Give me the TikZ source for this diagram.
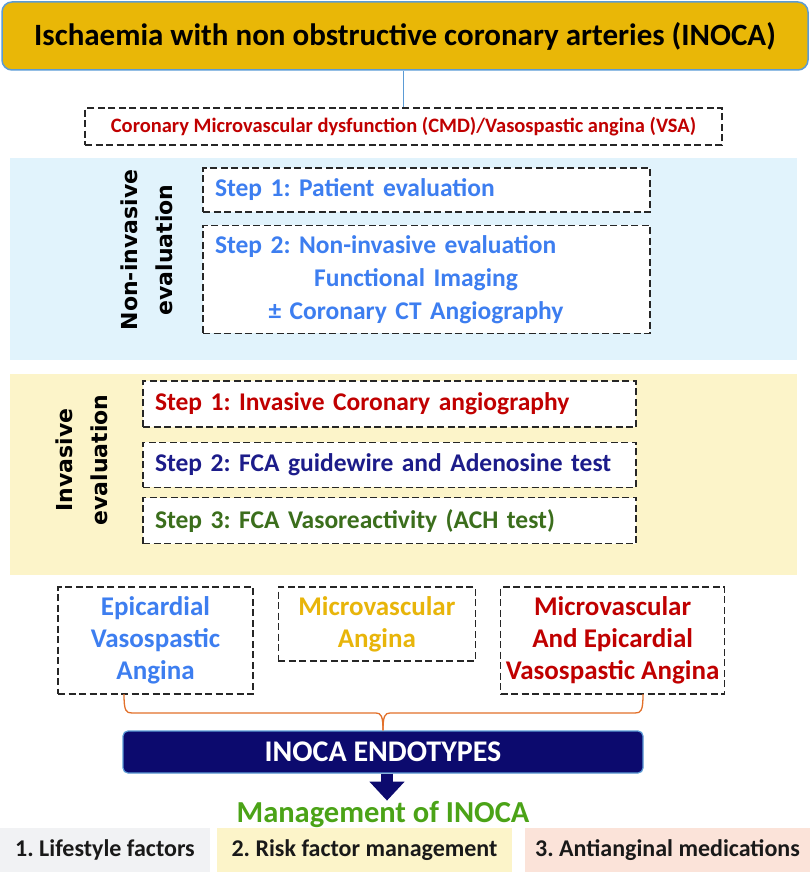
\documentclass[tikz,border=0pt]{standalone}
\usepackage{fontspec}
\setmainfont{Carlito}
\newfontfamily\sidefont{DejaVu Sans}
\usepackage{tikz}
\usetikzlibrary{positioning,arrows.meta}

\definecolor{goldfill}{HTML}{E9B707}
\definecolor{edgeblue}{HTML}{5B9BD5}
\definecolor{cmdred}{HTML}{C00000}
\definecolor{stepblue}{HTML}{3D7EF0}
\definecolor{stepnavy}{HTML}{1C1C8A}
\definecolor{stepgreen}{HTML}{3B6E1C}
\definecolor{mvyellow}{HTML}{E8B50A}
\definecolor{bandblue}{HTML}{E1F3FC}
\definecolor{bandyellow}{HTML}{FCF4C9}
\definecolor{endonavy}{HTML}{0C0A6E}
\definecolor{bracered}{HTML}{E2702A}
\definecolor{mgmtgreen}{HTML}{4BA317}
\definecolor{boxgray}{HTML}{F1F2F4}
\definecolor{boxpink}{HTML}{FBE3D9}
\definecolor{dashgray}{HTML}{262626}

\newcommand{\fsz}[2]{\fontsize{#1}{#2}\selectfont}

\begin{document}
\frenchspacing
\begin{tikzpicture}[x=1pt, y=-1pt, inner sep=0pt,
    titlebox/.style = {draw=edgeblue, line width=1.5pt, fill=goldfill, rounded corners=10pt, minimum width=806pt, minimum height=68pt, font=\fsz{31}{36}\bfseries},
    dashbox/.style = {draw=dashgray, dash pattern=on 7pt off 3.5pt, line width=1.3pt, fill=white},
    stepbox/.style = {dashbox, text width=#1, align=left, inner xsep=12pt, font=\fsz{25.5}{33}\bfseries},
    endobox/.style = {dashbox, align=center, font=\fsz{27}{32}\bfseries},
    sidelabel/.style = {rotate=90, align=center, font=\sidefont\fsz{22}{35}\bfseries},
    typebox/.style = {draw=edgeblue, line width=1.2pt, fill=endonavy, rounded corners=5pt, text=white, minimum width=520pt, minimum height=42pt, font=\fsz{30}{34}\bfseries},
    mgmtbox/.style = {minimum height=44pt, text=black!90, font=\fsz{24}{28}\bfseries}]
    \useasboundingbox (0,0) rectangle (810,872);
    % background bands
    \fill[bandblue] (10,158) rectangle (797,360);
    \fill[bandyellow] (10,374) rectangle (797,575);

    \node[titlebox] (title) at (405,36) {Ischaemia with non obstructive coronary arteries (INOCA)};
    \node[dashbox, minimum width=637pt, minimum height=37pt, text=cmdred, font=\fsz{20.5}{24}\bfseries] (cmd) at (403.5,126.5) {Coronary Microvascular dysfunction (CMD)/Vasospastic angina (VSA)};
    \draw[edgeblue, line width=1.2pt] (cmd.north |- title.south) -- (cmd.north);

    % non-invasive
    \node[sidelabel] (nonlab) at (147,250) {Non-invasive\\evaluation};
    \node[stepbox=423pt, minimum height=44pt, text=stepblue] (ns1) at (426.5,190) {Step 1: Patient evaluation};
    \node[stepbox=423pt, minimum height=108pt, text=stepblue, below=12pt of ns1] (ns2) {Step 2: Non-invasive evaluation\\\makebox[402pt]{Functional Imaging}\\\makebox[402pt]{± Coronary CT Angiography}};

    % invasive
    \node[sidelabel] (invlab) at (82,460) {Invasive\\evaluation};
    \node[stepbox=469pt, minimum height=46pt, text=cmdred] (is1) at (389.5,404) {Step 1: Invasive Coronary angiography};
    \node[stepbox=469pt, minimum height=45pt, text=stepnavy, below=14pt of is1] (is2) {Step 2: FCA guidewire and Adenosine test};
    \node[stepbox=469pt, minimum height=46pt, text=stepgreen, below=9pt of is2] (is3) {Step 3: FCA Vasoreactivity (ACH test)};

    % endotypes
    \node[endobox, minimum width=195pt, minimum height=107pt, text=stepblue] (e1) at (155.5,640.5) {Epicardial\\Vasospastic\\Angina};
    \node[endobox, minimum width=197pt, minimum height=74pt, text=mvyellow, right=24pt of e1.north east, anchor=north west] (e2) {Microvascular\\Angina};
    \node[endobox, minimum width=224pt, minimum height=107pt, text=cmdred, right=24pt of e2.north east, anchor=north west] (e3) {Microvascular\\And Epicardial\\Vasospastic Angina};

    \node[typebox] (endo) at (383,752) {INOCA ENDOTYPES};
    \coordinate (brL) at (124,694);
    \coordinate (brR) at (643,694);
    \draw[bracered, line width=1.3pt] (brL) .. controls (124,711) and (126,713) .. (132,713) -- (376,713) .. controls (381,713) and (383,716) .. (endo.north);
    \draw[bracered, line width=1.3pt] (brR) .. controls (643,711) and (641,713) .. (635,713) -- (390,713) .. controls (385,713) and (383,716) .. (endo.north);

    \node[text=mgmtgreen, font=\fsz{30.5}{34}\bfseries] (mgmt) at (383,814) {Management of INOCA};
    \draw[endonavy, line width=12pt, -{Triangle[length=19pt, width=34pt]}] ([xshift=4pt]endo.south) -- ([xshift=4pt]mgmt.north);

    % management boxes
    \node[mgmtbox, fill=boxgray, minimum width=210pt] (m1) at (105,850) {1. Lifestyle factors};
    \node[mgmtbox, fill=bandyellow, minimum width=295pt] (m2) at (364.5,850) {2. Risk factor management};
    \node[mgmtbox, fill=boxpink, minimum width=285pt] (m3) at (667.5,850) {3. Antianginal medications};
\end{tikzpicture}
\end{document}
